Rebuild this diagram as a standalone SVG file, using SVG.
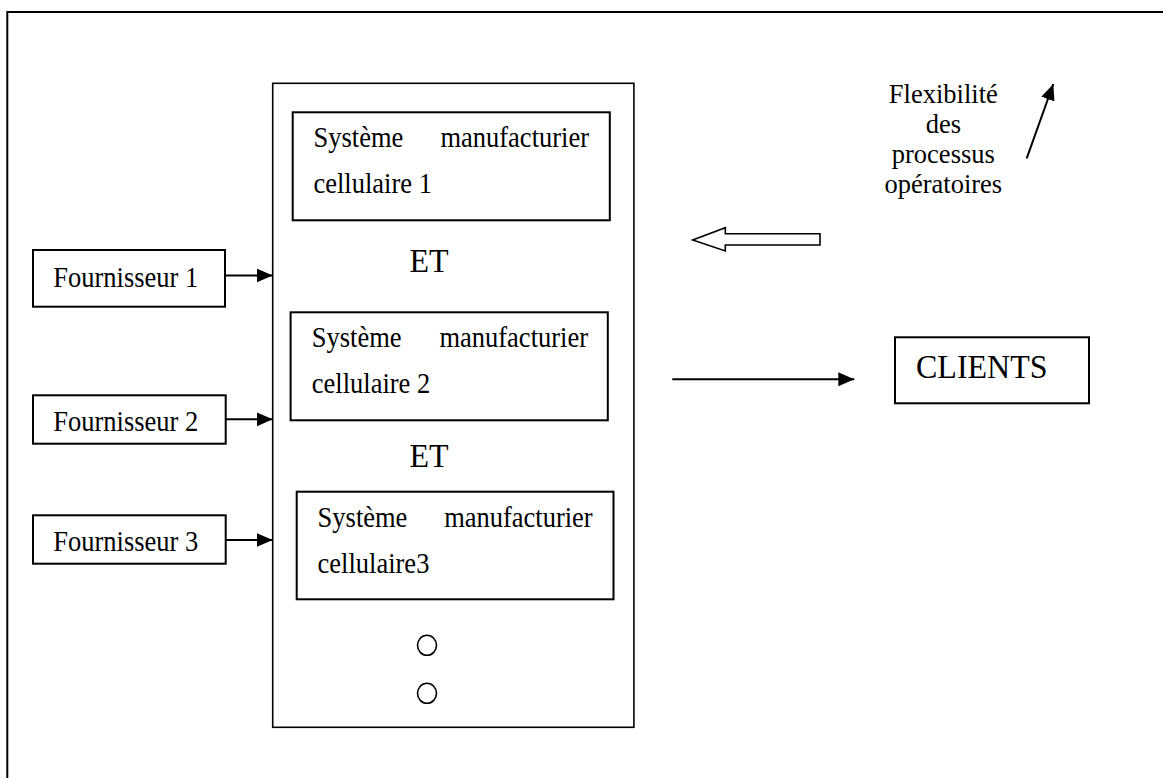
<svg xmlns="http://www.w3.org/2000/svg" width="1163" height="778" viewBox="0 0 1163 778">
<style>
text{font-family:"Liberation Serif","Times New Roman",serif;fill:#000}
.t{font-size:26.5px}
.big{font-size:32px}
.box{fill:#fff;stroke:#000;stroke-width:2}
.conn{stroke:#000;stroke-width:2;fill:none}
</style>
<defs>
<marker id="ah" markerUnits="userSpaceOnUse" markerWidth="17" markerHeight="15" refX="16" refY="7" orient="auto">
<path d="M0,0 L16,7 L0,14 z" fill="#000"/>
</marker>
</defs>
<rect width="1163" height="778" fill="#fff"/>
<path d="M7.3,790 V12 H1170" fill="none" stroke="#000" stroke-width="2"/>
<g id="main">
<rect x="272.7" y="83.3" width="361.2" height="644" fill="#fff" stroke="#000" stroke-width="1.6"/>
</g>
<g id="sys1">
<rect class="box" x="292.7" y="112.3" width="317.1" height="108"/>
<text class="t" transform="translate(313.5,147.3) scale(1,1.1)">Système</text>
<text class="t" transform="translate(589,147.3) scale(1,1.1)" text-anchor="end">manufacturier</text>
<text class="t" transform="translate(313.5,193.3) scale(1,1.1)">cellulaire 1</text>
</g>
<g id="et1"><text class="big" transform="translate(409.4,271.7) scale(1,1.06)">ET</text></g>
<g id="sys2">
<rect class="box" x="290.6" y="312.3" width="317.2" height="108"/>
<text class="t" transform="translate(311.8,346.7) scale(1,1.1)">Système</text>
<text class="t" transform="translate(588,346.7) scale(1,1.1)" text-anchor="end">manufacturier</text>
<text class="t" transform="translate(311.8,393.3) scale(1,1.1)">cellulaire 2</text>
</g>
<g id="et2"><text class="big" transform="translate(409.4,467.3) scale(1,1.06)">ET</text></g>
<g id="sys3">
<rect class="box" x="296.7" y="491.7" width="316.8" height="107.6"/>
<text class="t" transform="translate(317.6,526.7) scale(1,1.1)">Système</text>
<text class="t" transform="translate(592.7,526.7) scale(1,1.1)" text-anchor="end">manufacturier</text>
<text class="t" transform="translate(317.6,572.7) scale(1,1.1)">cellulaire3</text>
</g>
<g id="dots">
<ellipse cx="427" cy="645.3" rx="9.5" ry="10" fill="none" stroke="#000" stroke-width="1.6"/>
<ellipse cx="427" cy="693.3" rx="9.5" ry="10" fill="none" stroke="#000" stroke-width="1.6"/>
</g>
<g id="f1">
<rect class="box" x="33" y="250" width="192" height="56.7"/>
<text class="t" transform="translate(53.3,286.7) scale(1,1.1)">Fournisseur 1</text>
</g>
<g id="f2">
<rect class="box" x="33" y="395.3" width="192.7" height="48.4"/>
<text class="t" transform="translate(53.3,430.7) scale(1,1.1)">Fournisseur 2</text>
</g>
<g id="f3">
<rect class="box" x="33" y="515.3" width="192.7" height="48.4"/>
<text class="t" transform="translate(53.3,550.7) scale(1,1.1)">Fournisseur 3</text>
</g>
<g id="clients">
<rect class="box" x="895" y="337.3" width="194" height="66"/>
<text class="big" transform="translate(916,378.3) scale(1,1.08)">CLIENTS</text>
</g>
<g id="flex">
<text class="t" transform="translate(943.3,103.3) scale(1,1.06)" text-anchor="middle">Flexibilité</text>
<text class="t" transform="translate(943.3,133.3) scale(1,1.06)" text-anchor="middle">des</text>
<text class="t" transform="translate(943.3,163.3) scale(1,1.06)" text-anchor="middle">processus</text>
<text class="t" transform="translate(943.3,193.3) scale(1,1.06)" text-anchor="middle">opératoires</text>
</g>
<g id="connectors">
<line class="conn" x1="225" y1="275.5" x2="272.7" y2="275.5" marker-end="url(#ah)"/>
<line class="conn" x1="225.7" y1="419.3" x2="272.7" y2="419.3" marker-end="url(#ah)"/>
<line class="conn" x1="225.7" y1="540" x2="272.7" y2="540" marker-end="url(#ah)"/>
<line class="conn" x1="672.3" y1="379.3" x2="854.3" y2="379.3" marker-end="url(#ah)"/>
<line class="conn" x1="1026.7" y1="158.3" x2="1053.3" y2="84" marker-end="url(#ah)"/>
<path d="M692.7,240 L725.3,227.7 L725.3,233.7 L820,233.7 L820,245 L725.3,245 L725.3,251 Z" fill="#fff" stroke="#000" stroke-width="1.6"/>
</g>
</svg>
